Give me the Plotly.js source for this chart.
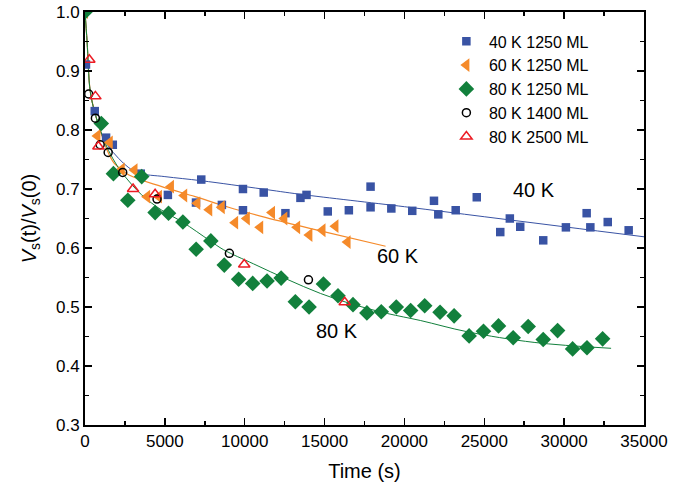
<!DOCTYPE html>
<html>
<head>
<meta charset="utf-8">
<script src="https://cdn.plot.ly/plotly-3.0.1.min.js"></script>
<style>html,body{margin:0;padding:0;background:#fff;}#chart{width:681px;height:485px;}</style>
</head>
<body>
<div id="chart"></div>
<script>
// ---- data ----
const seriesNames = ["40 K 1250 ML", "60 K 1250 ML", "80 K 1250 ML", "80 K 1400 ML", "80 K 2500 ML"];

const t40 = [60, 610, 1320, 1740, 3490, 5190, 6950, 7280, 8570, 9890, 9890, 11190, 12550, 13490, 13870, 15200, 16520, 17880, 17880, 19180, 20490, 21850, 22120, 23210, 24530, 26000, 26600, 27250, 28690, 30110, 31410, 31640, 32730, 34040];
const v40 = [0.911, 0.832, 0.787, 0.775, 0.726, 0.690, 0.677, 0.716, 0.673, 0.700, 0.664, 0.694, 0.659, 0.685, 0.690, 0.662, 0.664, 0.704, 0.669, 0.667, 0.663, 0.680, 0.657, 0.664, 0.686, 0.627, 0.650, 0.636, 0.613, 0.635, 0.659, 0.635, 0.644, 0.630];

const t60 = [0, 780, 1550, 2300, 3100, 3890, 4630, 5380, 6210, 7030, 7780, 8560, 9400, 10130, 10970, 11710, 12480, 13280, 14050, 14870, 15680, 16440];
const v60 = [1.0, 0.790, 0.779, 0.733, 0.732, 0.687, 0.687, 0.704, 0.689, 0.676, 0.665, 0.669, 0.643, 0.650, 0.635, 0.660, 0.650, 0.635, 0.622, 0.630, 0.637, 0.610];

const t80 = [0, 1020, 1780, 2680, 3550, 4390, 5230, 6130, 6960, 7880, 8720, 9620, 10500, 11400, 12280, 13170, 14030, 14930, 15840, 16780, 17650, 18550, 19490, 20390, 21270, 22230, 23110, 24050, 24950, 25890, 26810, 27750, 28690, 29590, 30530, 31430, 32410];
const v80 = [1.0, 0.811, 0.726, 0.681, 0.721, 0.660, 0.659, 0.644, 0.598, 0.612, 0.571, 0.547, 0.540, 0.544, 0.549, 0.509, 0.500, 0.539, 0.519, 0.504, 0.490, 0.492, 0.500, 0.494, 0.502, 0.491, 0.485, 0.451, 0.459, 0.468, 0.448, 0.467, 0.445, 0.460, 0.429, 0.431, 0.446];

const t1400 = [230, 650, 950, 1450, 2360, 4510, 9040, 13990];
const v1400 = [0.861, 0.820, 0.775, 0.762, 0.728, 0.683, 0.591, 0.546];

const t2500 = [270, 650, 840, 3010, 4390, 9970, 16260];
const v2500 = [0.919, 0.857, 0.772, 0.700, 0.691, 0.572, 0.508];

// fitted curves
const fit40t = [0, 130, 330, 650, 1060, 1480, 2100, 2700, 3350, 5000, 7300, 11100, 13490, 20000, 25000, 30000, 35000];
const fit40v = [1.0, 0.95, 0.865, 0.826, 0.792, 0.772, 0.752, 0.737, 0.727, 0.721, 0.714, 0.700, 0.691, 0.670, 0.653, 0.636, 0.619];

const fit60t = [0, 130, 330, 650, 1060, 1480, 1880, 2720, 4810, 6900, 8990, 11290, 14740, 18820];
const fit60v = [1.0, 0.95, 0.865, 0.826, 0.790, 0.760, 0.742, 0.724, 0.704, 0.687, 0.669, 0.652, 0.629, 0.603];

const fit80t = [0, 130, 330, 650, 1060, 1480, 2000, 2510, 3550, 4810, 6100, 7840, 8680, 10560, 12650, 14740, 16830, 18930, 21020, 23940, 28120, 32940];
const fit80v = [1.0, 0.95, 0.865, 0.826, 0.792, 0.765, 0.740, 0.721, 0.690, 0.664, 0.644, 0.612, 0.597, 0.573, 0.547, 0.523, 0.504, 0.489, 0.477, 0.458, 0.440, 0.430];

const labelText = ["40 K", "60 K", "80 K"];
const labelT = [28100, 19570, 15750];
const labelV = [0.698, 0.586, 0.459];

const xTickVals = [0, 5000, 10000, 15000, 20000, 25000, 30000, 35000];
const yTickVals = [0.3, 0.4, 0.5, 0.6, 0.7, 0.8, 0.9, 1.0];

// ---- styling ----
const cBlue = "#3953a4", cOrange = "#f58a2a", cGreen = "#12803c", cBlack = "#000000", cRed = "#ec1c24";
const FONT = "Liberation Sans, Arial, Helvetica, sans-serif";

const traces = [
  {x: fit40t, y: fit40v, mode: "lines", line: {color: cBlue, width: 1, shape: "spline"}, showlegend: false, hoverinfo: "skip"},
  {x: fit60t, y: fit60v, mode: "lines", line: {color: cOrange, width: 1.2, shape: "spline"}, showlegend: false, hoverinfo: "skip"},
  {x: fit80t, y: fit80v, mode: "lines", line: {color: cGreen, width: 1, shape: "spline"}, showlegend: false, hoverinfo: "skip"},
  {x: t40, y: v40, name: seriesNames[0], mode: "markers", marker: {symbol: "square", size: 8.5, color: cBlue, line: {width: 0}}},
  {x: t60, y: v60, name: seriesNames[1], mode: "markers", marker: {symbol: "triangle-left", size: 12, color: cOrange, line: {width: 0}}},
  {x: t80, y: v80, name: seriesNames[2], mode: "markers", marker: {symbol: "diamond", size: 12, color: cGreen, line: {width: 0}}},
  {x: t1400, y: v1400, name: seriesNames[3], mode: "markers", marker: {symbol: "circle-open", size: 8, color: cBlack, line: {width: 1.5}}},
  {x: t2500, y: v2500, name: seriesNames[4], mode: "markers", marker: {symbol: "triangle-up-open", size: 10, color: cRed, line: {width: 1.5}}}
];

const annotations = labelText.map((s, i) => ({
  x: labelT[i], y: labelV[i], xref: "x", yref: "y", text: s, showarrow: false,
  font: {family: FONT, size: 20, color: "#000"}, xanchor: "center", yanchor: "middle"
}));

const axisCommon = {
  showline: true, linecolor: "#000", linewidth: 2, mirror: "ticks",
  ticks: "inside", ticklen: 7, tickwidth: 1.5, tickcolor: "#000",
  showgrid: false, zeroline: false,
  tickfont: {family: FONT, size: 17, color: "#000"}
};

const layout = {
  width: 681, height: 485,
  margin: {l: 85, r: 37, t: 12, b: 60},
  paper_bgcolor: "#fff", plot_bgcolor: "#fff",
  font: {family: FONT, color: "#000"},
  showlegend: true,
  legend: {x: 0.642, y: 0.970, xanchor: "left", yanchor: "top", bgcolor: "rgba(0,0,0,0)",
           font: {family: FONT, size: 16, color: "#000"}, tracegroupgap: 0, itemsizing: "trace", itemwidth: 35},
  xaxis: Object.assign({}, axisCommon, {
    range: [0, 35000], tickvals: xTickVals, tickformat: "d",
    minor: {dtick: 2500, tick0: 0, ticks: "inside", ticklen: 4, tickwidth: 1.5, tickcolor: "#000", showgrid: false},
    title: {text: "Time (s)", font: {family: FONT, size: 20, color: "#000"}, standoff: 14}
  }),
  yaxis: Object.assign({}, axisCommon, {
    range: [0.3, 1.0], tickvals: yTickVals, tickformat: ".1f",
    minor: {dtick: 0.05, tick0: 0.3, ticks: "inside", ticklen: 4, tickwidth: 1.5, tickcolor: "#000", showgrid: false},
    title: {text: "<i>V</i><sub>s</sub>(t)/<i>V</i><sub>s</sub>(0)", font: {family: FONT, size: 20, color: "#000"}, standoff: 14}
  }),
  annotations: annotations
};

Plotly.newPlot("chart", traces, layout, {displayModeBar: false, staticPlot: true});
</script>
</body>
</html>
